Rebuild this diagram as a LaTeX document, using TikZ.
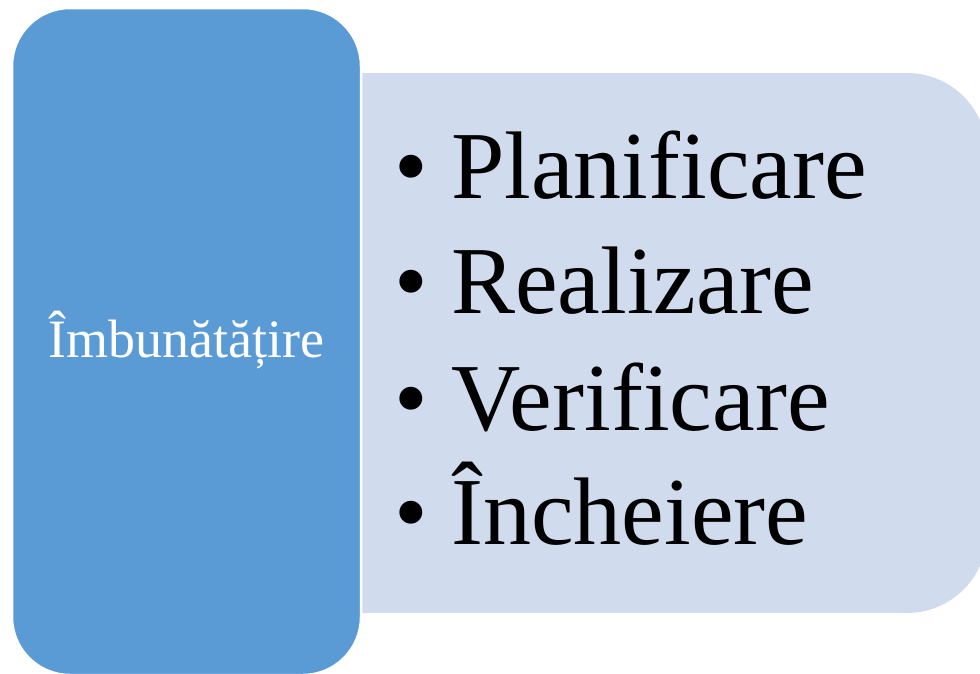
\documentclass[tikz,border=0pt]{standalone}
\usepackage{fontspec}
\setmainfont{Liberation Serif}
\definecolor{darkblue}{RGB}{91,155,213}
\definecolor{lightblue}{RGB}{208,220,238}
\tikzset{
  itemtext/.style={anchor=base west, inner sep=0pt, text=black, font=\fontsize{96}{115}\selectfont},
  headtext/.style={anchor=base, inner sep=0pt, text=white, font=\fontsize{54}{62}\selectfont}
}
\begin{document}
\begin{tikzpicture}[x=1pt,y=-1pt]
\useasboundingbox (0,0) rectangle (980,673);
\begin{scope}
\clip (0,0) rectangle (980,673);
\fill[lightblue] (340,73) {[rounded corners=80pt] -- (987,73) -- (987,613)} -- (340,613) -- cycle;
\draw[fill=darkblue, draw=white, line width=2.5pt, rounded corners=58pt] (12,8) rectangle (361,675);
\end{scope}
\node[headtext] (head) at (186,357) {Îmbunătățire};
\node[itemtext] (b1) at (394,198) {•};
\node[itemtext] (t1) at (451,198) {Planificare};
\node[itemtext] (b2) at (394,313) {•};
\node[itemtext] (t2) at (451,313) {Realizare};
\node[itemtext] (b3) at (394,430) {•};
\node[itemtext] (t3) at (451,430) {Verificare};
\node[itemtext] (b4) at (394,544) {•};
\node[itemtext] (t4) at (451,544) {Încheiere};
\end{tikzpicture}
\end{document}
